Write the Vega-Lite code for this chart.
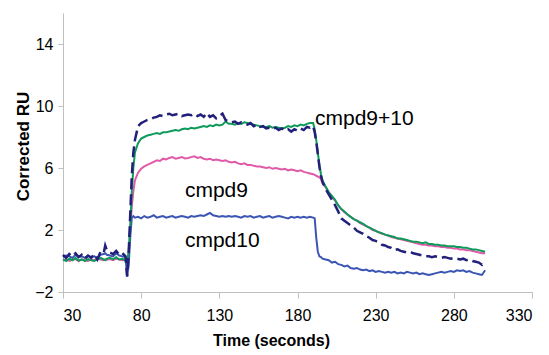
{
  "$schema": "https://vega.github.io/schema/vega-lite/v6.json",
  "width": 469,
  "height": 279,
  "autosize": {"type": "none"},
  "padding": {"left": 63, "top": 13, "right": 17, "bottom": 63},
  "background": "white",
  "config": {
    "view": {"stroke": null},
    "axis": {
      "grid": false,
      "domainColor": "#BFBFBF",
      "tickColor": "#BFBFBF",
      "labelFont": "Liberation Sans",
      "labelFontSize": 16,
      "labelColor": "#000000",
      "titleFont": "Liberation Sans",
      "titleFontWeight": "bold",
      "titleColor": "#000000"
    }
  },
  "datasets": {
    "curves": [
      {"t":30,"a":0.05,"b":0.25,"c":0.1,"d":0.4},
      {"t":32,"a":0.1,"b":0.35,"c":0.0,"d":0.2},
      {"t":34,"a":0.0,"b":0.3,"c":0.15,"d":0.45},
      {"t":36,"a":0.08,"b":0.2,"c":0.05,"d":0.3},
      {"t":38,"a":0.12,"b":0.4,"c":0.2,"d":0.5},
      {"t":40,"a":0.0,"b":0.25,"c":0.02,"d":0.25},
      {"t":42,"a":0.1,"b":0.3,"c":0.1,"d":0.4},
      {"t":44,"a":0.05,"b":0.2,"c":0.0,"d":0.15},
      {"t":46,"a":0.0,"b":0.35,"c":0.12,"d":0.35},
      {"t":48,"a":0.1,"b":0.25,"c":0.05,"d":0.2},
      {"t":50,"a":0.05,"b":0.3,"c":0.0,"d":0.45},
      {"t":52,"a":0.15,"b":0.2,"c":0.1,"d":0.1},
      {"t":54,"a":0.1,"b":0.4,"c":0.2,"d":0.6},
      {"t":56,"a":0.05,"b":0.45,"c":0.1,"d":0.5},
      {"t":57,"a":0.1,"b":0.5,"c":0.05,"d":1.0},
      {"t":58,"a":0.08,"b":0.4,"c":0.15,"d":0.7},
      {"t":60,"a":0.12,"b":0.35,"c":0.2,"d":0.55},
      {"t":62,"a":0.05,"b":0.3,"c":0.1,"d":0.45},
      {"t":64,"a":0.15,"b":0.5,"c":0.25,"d":0.65},
      {"t":66,"a":0.1,"b":0.35,"c":0.1,"d":0.4},
      {"t":68,"a":0.05,"b":0.3,"c":0.15,"d":0.5},
      {"t":70,"a":0.1,"b":0.25,"c":0.0,"d":0.3},
      {"t":71,"a":-0.2,"b":-1.0,"c":-0.1,"d":-1.0},
      {"t":72,"a":0.3,"b":-0.3,"c":0.6,"d":0.5},
      {"t":73,"a":2.0,"b":1.5,"c":2.2,"d":3.0},
      {"t":74,"a":3.5,"b":2.8,"c":4.5,"d":5.5},
      {"t":75,"a":4.5,"b":2.9,"c":6.0,"d":7.0},
      {"t":76,"a":5.2,"b":2.8,"c":7.0,"d":7.8},
      {"t":78,"a":5.7,"b":2.85,"c":7.6,"d":8.7},
      {"t":80,"a":5.95,"b":2.75,"c":7.9,"d":8.9},
      {"t":82,"a":6.1,"b":2.9,"c":8.0,"d":9.0},
      {"t":84,"a":6.2,"b":2.8,"c":8.1,"d":9.1},
      {"t":86,"a":6.3,"b":2.85,"c":8.15,"d":9.15},
      {"t":88,"a":6.4,"b":2.95,"c":8.2,"d":9.25},
      {"t":90,"a":6.5,"b":2.8,"c":8.25,"d":9.3},
      {"t":92,"a":6.45,"b":2.85,"c":8.2,"d":9.4},
      {"t":94,"a":6.6,"b":2.9,"c":8.3,"d":9.35},
      {"t":96,"a":6.55,"b":2.8,"c":8.3,"d":9.45},
      {"t":98,"a":6.65,"b":2.85,"c":8.35,"d":9.5},
      {"t":100,"a":6.7,"b":2.9,"c":8.4,"d":9.4},
      {"t":102,"a":6.6,"b":2.8,"c":8.45,"d":9.45},
      {"t":104,"a":6.65,"b":2.85,"c":8.4,"d":9.5},
      {"t":106,"a":6.7,"b":2.9,"c":8.5,"d":9.35},
      {"t":108,"a":6.62,"b":2.85,"c":8.55,"d":9.4},
      {"t":110,"a":6.65,"b":2.8,"c":8.5,"d":9.45},
      {"t":112,"a":6.7,"b":2.9,"c":8.6,"d":9.4},
      {"t":114,"a":6.75,"b":2.85,"c":8.55,"d":9.5},
      {"t":116,"a":6.65,"b":2.9,"c":8.6,"d":9.35},
      {"t":118,"a":6.7,"b":2.95,"c":8.65,"d":9.45},
      {"t":120,"a":6.6,"b":2.9,"c":8.7,"d":9.3},
      {"t":122,"a":6.55,"b":3.0,"c":8.65,"d":9.55},
      {"t":124,"a":6.6,"b":3.1,"c":8.75,"d":9.3},
      {"t":126,"a":6.5,"b":2.95,"c":8.7,"d":9.4},
      {"t":128,"a":6.55,"b":2.9,"c":8.8,"d":9.2},
      {"t":130,"a":6.5,"b":2.85,"c":8.75,"d":9.35},
      {"t":132,"a":6.45,"b":2.9,"c":8.8,"d":9.5},
      {"t":134,"a":6.5,"b":2.85,"c":9.0,"d":9.1},
      {"t":136,"a":6.4,"b":2.9,"c":8.85,"d":9.0},
      {"t":138,"a":6.35,"b":2.85,"c":8.85,"d":8.95},
      {"t":140,"a":6.4,"b":2.9,"c":8.8,"d":9.0},
      {"t":142,"a":6.3,"b":2.85,"c":8.9,"d":8.85},
      {"t":144,"a":6.25,"b":2.8,"c":8.85,"d":8.95},
      {"t":146,"a":6.3,"b":2.9,"c":8.95,"d":8.9},
      {"t":148,"a":6.2,"b":2.85,"c":8.9,"d":8.8},
      {"t":150,"a":6.2,"b":2.9,"c":8.85,"d":8.9},
      {"t":152,"a":6.15,"b":2.8,"c":8.8,"d":8.7},
      {"t":154,"a":6.1,"b":2.85,"c":8.75,"d":8.8},
      {"t":156,"a":6.1,"b":2.9,"c":8.7,"d":8.65},
      {"t":158,"a":6.05,"b":2.8,"c":8.65,"d":8.7},
      {"t":160,"a":6.0,"b":2.85,"c":8.65,"d":8.55},
      {"t":162,"a":6.05,"b":2.9,"c":8.7,"d":8.6},
      {"t":164,"a":5.95,"b":2.8,"c":8.6,"d":8.5},
      {"t":166,"a":6.0,"b":2.85,"c":8.65,"d":8.6},
      {"t":168,"a":5.95,"b":2.9,"c":8.6,"d":8.45},
      {"t":170,"a":5.9,"b":2.85,"c":8.55,"d":8.55},
      {"t":172,"a":5.95,"b":2.8,"c":8.6,"d":8.4},
      {"t":174,"a":5.85,"b":2.75,"c":8.7,"d":8.5},
      {"t":176,"a":5.9,"b":2.85,"c":8.65,"d":8.35},
      {"t":178,"a":5.85,"b":2.8,"c":8.75,"d":8.5},
      {"t":180,"a":5.8,"b":2.85,"c":8.7,"d":8.4},
      {"t":182,"a":5.85,"b":2.8,"c":8.8,"d":8.55},
      {"t":184,"a":5.75,"b":2.85,"c":8.75,"d":8.45},
      {"t":186,"a":5.7,"b":2.8,"c":8.85,"d":8.65},
      {"t":188,"a":5.65,"b":2.85,"c":8.9,"d":8.6},
      {"t":190,"a":5.6,"b":2.8,"c":8.9,"d":8.7},
      {"t":191,"a":5.55,"b":2.75,"c":8.5,"d":8.3},
      {"t":192,"a":5.5,"b":1.5,"c":7.8,"d":7.7},
      {"t":193,"a":5.45,"b":0.6,"c":7.0,"d":6.9},
      {"t":194,"a":5.4,"b":0.3,"c":6.2,"d":6.1},
      {"t":195,"a":5.3,"b":0.25,"c":5.6,"d":5.5},
      {"t":196,"a":5.0,"b":0.15,"c":5.2,"d":5.1},
      {"t":198,"a":4.75,"b":0.1,"c":4.8,"d":4.65},
      {"t":200,"a":4.4,"b":0.05,"c":4.45,"d":4.3},
      {"t":202,"a":4.15,"b":-0.1,"c":4.2,"d":3.95},
      {"t":204,"a":3.9,"b":-0.05,"c":3.95,"d":3.6},
      {"t":206,"a":3.6,"b":-0.2,"c":3.6,"d":3.2},
      {"t":208,"a":3.35,"b":-0.25,"c":3.35,"d":2.75},
      {"t":210,"a":3.15,"b":-0.35,"c":3.2,"d":2.6},
      {"t":212,"a":3.0,"b":-0.3,"c":3.0,"d":2.45},
      {"t":214,"a":2.85,"b":-0.45,"c":2.85,"d":2.3},
      {"t":216,"a":2.7,"b":-0.5,"c":2.7,"d":2.15},
      {"t":218,"a":2.6,"b":-0.45,"c":2.6,"d":1.95},
      {"t":220,"a":2.45,"b":-0.55,"c":2.5,"d":1.85},
      {"t":222,"a":2.35,"b":-0.6,"c":2.4,"d":1.75},
      {"t":224,"a":2.25,"b":-0.55,"c":2.25,"d":1.6},
      {"t":226,"a":2.15,"b":-0.65,"c":2.15,"d":1.5},
      {"t":228,"a":2.0,"b":-0.6,"c":2.05,"d":1.35},
      {"t":230,"a":1.95,"b":-0.7,"c":1.95,"d":1.3},
      {"t":232,"a":1.85,"b":-0.65,"c":1.85,"d":1.2},
      {"t":234,"a":1.75,"b":-0.7,"c":1.8,"d":1.05},
      {"t":236,"a":1.7,"b":-0.75,"c":1.7,"d":1.0},
      {"t":238,"a":1.65,"b":-0.7,"c":1.65,"d":0.9},
      {"t":240,"a":1.55,"b":-0.75,"c":1.6,"d":0.85},
      {"t":242,"a":1.5,"b":-0.7,"c":1.55,"d":0.7},
      {"t":244,"a":1.45,"b":-0.8,"c":1.45,"d":0.75},
      {"t":246,"a":1.4,"b":-0.75,"c":1.45,"d":0.65},
      {"t":248,"a":1.35,"b":-0.8,"c":1.4,"d":0.6},
      {"t":250,"a":1.3,"b":-0.7,"c":1.35,"d":0.55},
      {"t":252,"a":1.25,"b":-0.75,"c":1.3,"d":0.6},
      {"t":254,"a":1.2,"b":-0.8,"c":1.25,"d":0.5},
      {"t":256,"a":1.15,"b":-0.75,"c":1.25,"d":0.45},
      {"t":258,"a":1.1,"b":-0.85,"c":1.2,"d":0.4},
      {"t":260,"a":1.05,"b":-0.8,"c":1.15,"d":0.35},
      {"t":262,"a":1.05,"b":-0.85,"c":1.2,"d":0.3},
      {"t":264,"a":1.0,"b":-0.9,"c":1.1,"d":0.3},
      {"t":266,"a":1.0,"b":-0.85,"c":1.1,"d":0.25},
      {"t":268,"a":0.95,"b":-0.8,"c":1.05,"d":0.3},
      {"t":270,"a":0.95,"b":-0.75,"c":1.05,"d":0.25},
      {"t":272,"a":0.9,"b":-0.7,"c":1.0,"d":0.2},
      {"t":274,"a":0.9,"b":-0.75,"c":1.0,"d":0.25},
      {"t":276,"a":0.85,"b":-0.7,"c":0.95,"d":0.2},
      {"t":278,"a":0.85,"b":-0.65,"c":0.95,"d":0.15},
      {"t":280,"a":0.8,"b":-0.7,"c":0.95,"d":0.2},
      {"t":282,"a":0.8,"b":-0.6,"c":0.9,"d":0.15},
      {"t":284,"a":0.75,"b":-0.65,"c":0.9,"d":0.1},
      {"t":286,"a":0.75,"b":-0.6,"c":0.85,"d":0.15},
      {"t":288,"a":0.7,"b":-0.7,"c":0.85,"d":0.05},
      {"t":290,"a":0.7,"b":-0.65,"c":0.8,"d":0.1},
      {"t":292,"a":0.65,"b":-0.75,"c":0.75,"d":0.0},
      {"t":294,"a":0.6,"b":-0.8,"c":0.75,"d":-0.05},
      {"t":296,"a":0.55,"b":-0.85,"c":0.7,"d":-0.1},
      {"t":298,"a":0.5,"b":-0.9,"c":0.65,"d":-0.25},
      {"t":300,"a":0.5,"b":-0.6,"c":0.6,"d":0.0}
    ],
    "labels": [
      {"t":191.2,"v":8.77,"label":"cmpd9+10"},
      {"t":108,"v":4.15,"label":"cmpd9"},
      {"t":108,"v":0.92,"label":"cmpd10"}
    ]
  },
  "layer": [
    {
      "data": {"name": "curves"},
      "transform": [{"fold": ["a", "b", "c"], "as": ["series", "v"]}],
      "mark": {"type": "line", "strokeWidth": 2},
      "encoding": {
        "x": {
          "field": "t", "type": "quantitative",
          "scale": {"domain": [30, 330], "nice": false, "zero": false},
          "axis": {
            "title": "Time (seconds)",
            "values": [30, 80, 130, 180, 230, 280, 330],
            "tickSize": 6,
            "labelPadding": 9,
            "titleFontSize": 16,
            "titleX": 208,
            "titleY": 53,
            "titleBaseline": "alphabetic"
          }
        },
        "y": {
          "field": "v", "type": "quantitative",
          "scale": {"domain": [-2, 16], "nice": false, "zero": false},
          "axis": {
            "title": "Corrected RU",
            "values": [-2, 2, 6, 10, 14],
            "tickSize": 5,
            "labelPadding": 5,
            "titleFontSize": 17,
            "titleAngle": -90,
            "titleX": -35,
            "titleY": 133,
            "titleBaseline": "alphabetic",
            "titleAlign": "center"
          }
        },
        "color": {
          "field": "series", "type": "nominal",
          "scale": {"domain": ["a", "b", "c"], "range": ["#E05AA8", "#3B55B5", "#0E9A5A"]},
          "legend": null
        }
      }
    },
    {
      "data": {"name": "curves"},
      "mark": {"type": "line", "strokeWidth": 2.5, "strokeDash": [11, 5], "color": "#23207A"},
      "encoding": {
        "x": {"field": "t", "type": "quantitative"},
        "y": {"field": "d", "type": "quantitative"}
      }
    },
    {
      "data": {"name": "labels"},
      "mark": {"type": "text", "align": "left", "baseline": "alphabetic", "font": "Liberation Sans", "fontSize": 21, "color": "#000000"},
      "encoding": {
        "x": {"field": "t", "type": "quantitative"},
        "y": {"field": "v", "type": "quantitative"},
        "text": {"field": "label"}
      }
    }
  ]
}
